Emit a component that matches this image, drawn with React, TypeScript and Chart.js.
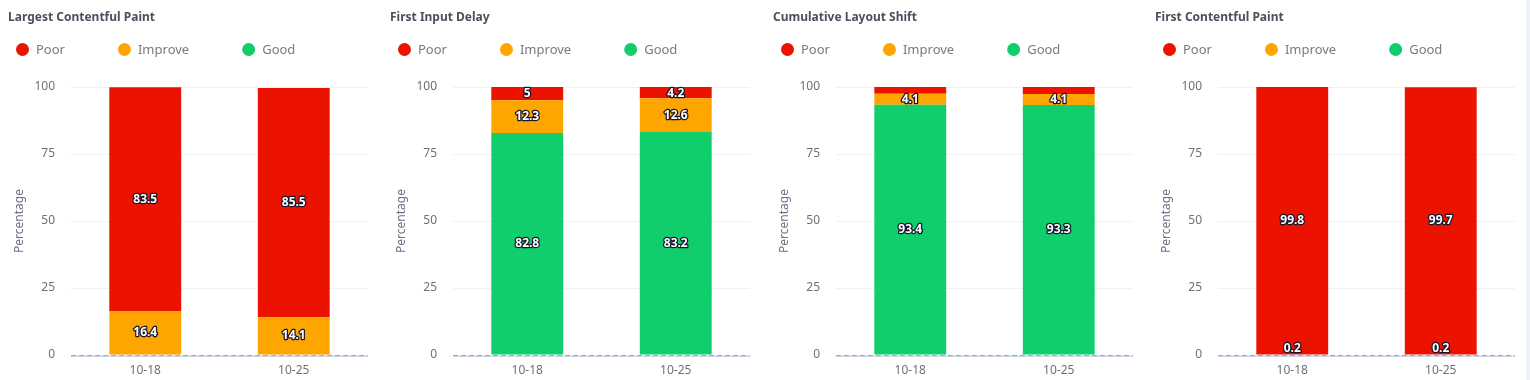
import React, { useEffect, useRef } from "react";
import { Chart, registerables } from "chart.js";

Chart.register(...registerables);

// ---- data ----
const weeks = ["10-18", "10-25"];
const metricTitles = [
  "Largest Contentful Paint",
  "First Input Delay",
  "Cumulative Layout Shift",
  "First Contentful Paint",
];
const lcpGood = [0, 0];
const lcpImprove = [16.4, 14.1];
const lcpPoor = [83.5, 85.5];
const fidGood = [82.8, 83.2];
const fidImprove = [12.3, 12.6];
const fidPoor = [5, 4.2];
const clsGood = [93.4, 93.3];
const clsImprove = [4.1, 4.1];
const clsPoor = [2.5, 2.6];
const fcpGood = [0, 0];
const fcpImprove = [0.2, 0.2];
const fcpPoor = [99.8, 99.7];
const yTickValues = [0, 25, 50, 75, 100];
const seriesNames = ["Good", "Improve", "Poor"]; // stacking order, bottom to top
const legendOrder = ["Poor", "Improve", "Good"];
const yAxisTitle = "Percentage";

const metricSeries = [
  [lcpGood, lcpImprove, lcpPoor],
  [fidGood, fidImprove, fidPoor],
  [clsGood, clsImprove, clsPoor],
  [fcpGood, fcpImprove, fcpPoor],
];

const COLORS: Record<string, string> = {
  Good: "#0fce6b",
  Improve: "#ffa500",
  Poor: "#eb1200",
};

const FONT = "'Noto Sans', sans-serif";
const PANEL_LEFTS = [0, 382, 765, 1147];

const headerPlugin = {
  id: "panelHeader",
  afterDraw(chart: any, _args: any, opts: any) {
    const ctx = chart.ctx;
    ctx.save();
    // title
    ctx.font = `bold 12px ${FONT}`;
    ctx.fillStyle = "#4b505d";
    ctx.textBaseline = "middle";
    ctx.textAlign = "left";
    ctx.fillText(opts.title, 8, 17.5);
    // legend
    ctx.font = `13px ${FONT}`;
    let x = 16;
    const y = 49.5;
    for (const name of legendOrder) {
      const ds = chart.data.datasets.find((d: any) => d.label === name);
      ctx.fillStyle = ds.backgroundColor;
      ctx.beginPath();
      ctx.arc(x + 6.5, y, 6.5, 0, Math.PI * 2);
      ctx.fill();
      ctx.fillStyle = "#7a7a7f";
      ctx.fillText(name, x + 20, y + 0.5);
      x = x + 20 + ctx.measureText(name).width + 53;
    }
    ctx.restore();
  },
};

const baselinePlugin = {
  id: "baseline",
  afterDatasetsDraw(chart: any) {
    const ctx = chart.ctx;
    const area = chart.chartArea;
    const y0 = Math.round(chart.scales.y.getPixelForValue(0));
    ctx.save();
    ctx.lineWidth = 1;
    ctx.strokeStyle = "#cdd6e8";
    ctx.beginPath();
    ctx.moveTo(area.left, y0 + 1.5);
    ctx.lineTo(area.right, y0 + 1.5);
    ctx.stroke();
    ctx.strokeStyle = "#a1a7b6";
    ctx.setLineDash([5, 3]);
    ctx.beginPath();
    ctx.moveTo(area.left, y0 + 0.5);
    ctx.lineTo(area.right, y0 + 0.5);
    ctx.stroke();
    ctx.restore();
  },
};

const valueLabelPlugin = {
  id: "valueLabels",
  afterDatasetsDraw(chart: any) {
    const ctx = chart.ctx;
    const area = chart.chartArea;
    ctx.save();
    ctx.font = `bold 12px ${FONT}`;
    ctx.textAlign = "center";
    ctx.textBaseline = "middle";
    ctx.lineJoin = "round";
    const n = chart.data.labels.length;
    for (let i = 0; i < n; i++) {
      let last: number | null = null;
      chart.data.datasets.forEach((ds: any, di: number) => {
        const v = ds.data[i];
        if (!v) return;
        const el = chart.getDatasetMeta(di).data[i];
        const { x, y, base } = el.getProps(["x", "y", "base"], true);
        let cy = (Math.max(y, area.top) + Math.min(base, area.bottom)) / 2;
        cy = Math.min(Math.max(cy, area.top + 7), area.bottom - 6);
        if (last !== null && Math.abs(last - cy) < 12) return;
        last = cy;
        ctx.strokeStyle = "#15152e";
        ctx.lineWidth = 2.5;
        ctx.strokeText(String(v), x, cy);
        ctx.fillStyle = "#ffffff";
        ctx.fillText(String(v), x, cy);
      });
    }
    ctx.restore();
  },
};

function Panel({ index }: { index: number }) {
  const ref = useRef<HTMLCanvasElement | null>(null);
  useEffect(() => {
    if (!ref.current) return;
    const series = metricSeries[index];
    const chart = new Chart(ref.current, {
      type: "bar",
      data: {
        labels: weeks,
        datasets: seriesNames.map((name, k) => ({
          label: name,
          data: series[k],
          backgroundColor: COLORS[name],
          borderWidth: 0,
          categoryPercentage: 0.5,
          barPercentage: 0.968,
        })),
      },
      options: {
        animation: false,
        responsive: true,
        maintainAspectRatio: false,
        layout: { padding: { left: 0, right: 14, top: 87, bottom: 0 } },
        plugins: {
          legend: { display: false },
          title: { display: false },
          tooltip: { enabled: false },
          panelHeader: { title: metricTitles[index] },
        } as any,
        scales: {
          x: {
            stacked: true,
            grid: { display: false, drawTicks: false },
            border: { display: false },
            ticks: { color: "#6e7079", font: { family: FONT, size: 12 }, padding: 8 },
            afterFit: (s: any) => {
              s.height = 25;
            },
          },
          y: {
            stacked: true,
            min: 0,
            max: 100,
            afterBuildTicks: (s: any) => {
              s.ticks = yTickValues.map((v) => ({ value: v }));
            },
            grid: { color: "#f0f1f7", drawTicks: false, lineWidth: 1 },
            border: { display: false },
            ticks: { color: "#6e7079", font: { family: FONT, size: 12 }, padding: 16 },
            title: {
              display: true,
              text: yAxisTitle,
              color: "#6e7385",
              font: { family: FONT, size: 12 },
              padding: { top: 12, bottom: 0 },
            },
            afterFit: (s: any) => {
              s.width = 71;
            },
          },
        },
      },
      plugins: [headerPlugin, baselinePlugin, valueLabelPlugin],
    });
    return () => chart.destroy();
  }, [index]);
  return (
    <div
      style={{
        position: "absolute",
        left: PANEL_LEFTS[index],
        top: 0,
        width: 382,
        height: 380,
      }}
    >
      <canvas ref={ref} />
    </div>
  );
}

export default function App() {
  return (
    <div
      style={{
        position: "absolute",
        left: 0,
        top: 0,
        width: 1530,
        height: 380,
        background: "#ffffff",
        overflow: "hidden",
      }}
    >
      {metricTitles.map((_, i) => (
        <Panel key={i} index={i} />
      ))}
      <div
        style={{
          position: "absolute",
          left: 1526,
          top: 0,
          width: 4,
          height: 380,
          background: "#eef1f7",
        }}
      />
    </div>
  );
}
